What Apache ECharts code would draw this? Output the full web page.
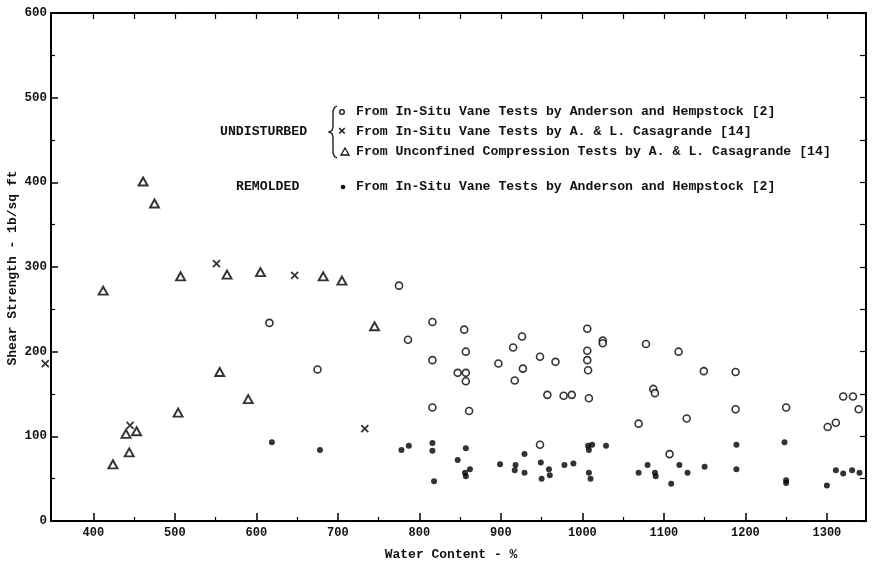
<!DOCTYPE html>
<html>
<head>
<meta charset="utf-8">
<script src="https://cdn.jsdelivr.net/npm/echarts@6/dist/echarts.min.js"></script>
<style>
  html, body { margin: 0; padding: 0; background: #fff; }
  #chart { width: 875px; height: 562px; }
</style>
</head>
<body>
<div id="chart"></div>
<script>
// undisturbed, in-situ vane tests (Anderson and Hempstock)
const vaneAH = [
  [616, 234], [675, 179], [775, 278], [786, 214], [816, 235], [816, 190], [816, 134],
  [847, 175], [855, 226], [857, 200], [857, 175], [857, 165], [861, 130], [897, 186],
  [915, 205], [917, 166], [926, 218], [927, 180], [948, 194], [948, 90], [957, 149],
  [967, 188], [977, 148], [987, 149], [1006, 227], [1006, 201], [1006, 190], [1007, 178],
  [1008, 145], [1025, 213], [1025, 210], [1069, 115], [1078, 209], [1087, 156], [1089, 151],
  [1107, 79], [1118, 200], [1128, 121], [1149, 177], [1188, 176], [1188, 132], [1250, 134],
  [1301, 111], [1311, 116], [1320, 147], [1332, 147], [1339, 132]
];
// undisturbed, in-situ vane tests (Casagrande)
const vaneCasa = [[341, 186], [445, 113], [551, 304], [647, 290], [733, 109]];
// undisturbed, unconfined compression (Casagrande)
const unconfined = [
  [412, 272], [424, 67], [440, 103], [444, 81], [453, 106], [461, 401], [475, 375],
  [504, 128], [507, 289], [555, 176], [564, 291], [590, 144], [605, 294], [682, 289],
  [705, 284], [745, 230]
];
// remolded, in-situ vane tests (Anderson and Hempstock)
const remolded = [
  [619, 93], [678, 84], [778, 84], [787, 89], [816, 92], [816, 83], [818, 47], [847, 72],
  [856, 57], [857, 86], [857, 53], [862, 61], [899, 67], [917, 60], [918, 66], [929, 79],
  [929, 57], [949, 69], [950, 50], [959, 61], [960, 54], [978, 66], [989, 68], [1007, 89],
  [1008, 84], [1008, 57], [1010, 50], [1012, 90], [1029, 89], [1069, 57], [1080, 66],
  [1089, 57], [1090, 53], [1109, 44], [1119, 66], [1129, 57], [1150, 64], [1189, 90],
  [1189, 61], [1248, 93], [1250, 48], [1250, 45], [1300, 42], [1311, 60], [1320, 56],
  [1331, 60], [1340, 57]
];

const xMajor = [400, 500, 600, 700, 800, 900, 1000, 1100, 1200, 1300];
const xMinor = [450, 550, 650, 750, 850, 950, 1050, 1150, 1250];
const xTop = [400, 450, 500, 550, 600, 650, 700, 750, 800, 850, 900, 950, 1000, 1050, 1100, 1150, 1200, 1250, 1300];

const mono = '"Liberation Mono", "DejaVu Sans Mono", monospace';
const legendFont = 'bold 13.2px ' + mono;

let chart = echarts.init(document.getElementById("chart"));

let hiddenAxis = {
  axisLabel: { show: false },
  splitLine: { show: false }
};

let option = {
  backgroundColor: "#fff",
  animation: false,
  grid: { left: 51, right: 9, top: 13, bottom: 41, outerBoundsMode: "none", containLabel: false },
  xAxis: [
    {
      type: "value",
      min: 348,
      max: 1348,
      position: "bottom",
      name: "Water Content - %",
      nameLocation: "middle",
      nameGap: 27,
      nameTextStyle: { fontFamily: mono, fontWeight: "bold", fontSize: 13, color: "#111", padding: [0, 15, 0, 0] },
      axisLine: { onZero: false, lineStyle: { color: "#000", width: 2 } },
      axisTick: { inside: true, length: 8, customValues: xMajor, lineStyle: { color: "#000", width: 1.5 } },
      axisLabel: {
        customValues: xMajor,
        formatter: v => String(v),
        margin: 6,
        fontFamily: mono,
        fontWeight: "bold",
        fontSize: 12,
        color: "#111"
      },
      splitLine: { show: false }
    },
    Object.assign({
      type: "value",
      min: 348,
      max: 1348,
      position: "bottom",
      axisLine: { show: false },
      axisTick: { inside: true, length: 4, customValues: xMinor, lineStyle: { color: "#000", width: 1.2 } }
    }, hiddenAxis),
    Object.assign({
      type: "value",
      min: 348,
      max: 1348,
      position: "top",
      axisLine: { onZero: false, lineStyle: { color: "#000", width: 2 } },
      axisTick: { inside: true, length: 6, customValues: xTop, lineStyle: { color: "#000", width: 1.2 } }
    }, hiddenAxis)
  ],
  yAxis: [
    {
      type: "value",
      min: 0,
      max: 600,
      interval: 100,
      position: "left",
      axisLine: { onZero: false, lineStyle: { color: "#000", width: 2 } },
      axisTick: { inside: true, length: 7, lineStyle: { color: "#000", width: 1.5 } },
      minorTick: { show: true, splitNumber: 2, length: 4, lineStyle: { color: "#000", width: 1.2 } },
      axisLabel: { margin: 4, fontFamily: mono, fontWeight: "bold", fontSize: 12.5, color: "#111" },
      splitLine: { show: false }
    },
    Object.assign({
      type: "value",
      min: 0,
      max: 600,
      interval: 50,
      position: "right",
      axisLine: { onZero: false, lineStyle: { color: "#000", width: 2 } },
      axisTick: { inside: true, length: 6, lineStyle: { color: "#000", width: 1.2 } }
    }, hiddenAxis)
  ],
  graphic: [
    {
      type: "text",
      x: 13,
      y: 268,
      rotation: Math.PI / 2,
      style: {
        text: "Shear Strength - 1b/sq ft",
        font: "bold 13px " + mono,
        fill: "#111",
        align: "center",
        verticalAlign: "middle"
      }
    },
    { type: "text", x: 220, y: 132, style: { text: "UNDISTURBED", font: legendFont, fill: "#111", verticalAlign: "middle" } },
    { type: "text", x: 236, y: 187, style: { text: "REMOLDED", font: legendFont, fill: "#111", verticalAlign: "middle" } },
    {
      type: "polyline",
      shape: {
        points: [[337, 106], [334.5, 107.5], [333, 111], [333, 127], [332, 130.5], [329, 132],
          [332, 133.5], [333, 137], [333, 153], [334.5, 156.5], [337, 158]]
      },
      style: { stroke: "#111", lineWidth: 1.3, fill: null }
    },
    { type: "circle", shape: { cx: 342, cy: 112, r: 2.3 }, style: { stroke: "#111", lineWidth: 1.3, fill: "#fff" } },
    { type: "text", x: 342, y: 132, style: { text: "×", font: legendFont, fill: "#111", align: "center", verticalAlign: "middle" } },
    { type: "polygon", shape: { points: [[345, 148], [341, 155], [349, 155]] }, style: { stroke: "#111", lineWidth: 1.3, fill: "#fff" } },
    { type: "circle", shape: { cx: 343, cy: 187, r: 2.3 }, style: { fill: "#111" } },
    { type: "text", x: 356, y: 112, style: { text: "From In-Situ Vane Tests by Anderson and Hempstock [2]", font: legendFont, fill: "#111", verticalAlign: "middle" } },
    { type: "text", x: 356, y: 132, style: { text: "From In-Situ Vane Tests by A. & L. Casagrande [14]", font: legendFont, fill: "#111", verticalAlign: "middle" } },
    { type: "text", x: 356, y: 152, style: { text: "From Unconfined Compression Tests by A. & L. Casagrande [14]", font: legendFont, fill: "#111", verticalAlign: "middle" } },
    { type: "text", x: 356, y: 187, style: { text: "From In-Situ Vane Tests by Anderson and Hempstock [2]", font: legendFont, fill: "#111", verticalAlign: "middle" } }
  ],
  series: [
    {
      name: "Undisturbed vane (Anderson and Hempstock)",
      type: "scatter",
      data: vaneAH,
      symbol: "circle",
      symbolSize: 7,
      itemStyle: { color: "#fff", borderColor: "#000", borderWidth: 1.6 }
    },
    {
      name: "Undisturbed vane (Casagrande)",
      type: "scatter",
      data: vaneCasa,
      clip: false,
      symbol: "path://M0,0L10,10M10,0L0,10",
      symbolSize: 7,
      itemStyle: { color: "none", borderColor: "#000", borderWidth: 1.8 }
    },
    {
      name: "Unconfined compression (Casagrande)",
      type: "scatter",
      data: unconfined,
      symbol: "triangle",
      symbolSize: [9, 8],
      itemStyle: { color: "#fff", borderColor: "#000", borderWidth: 1.9 }
    },
    {
      name: "Remolded vane (Anderson and Hempstock)",
      type: "scatter",
      data: remolded,
      symbol: "circle",
      symbolSize: 6,
      itemStyle: { color: "#000" }
    }
  ]
};

chart.setOption(option);

window.addEventListener("resize", () => {
  chart.resize();
});
</script>
</body>
</html>
